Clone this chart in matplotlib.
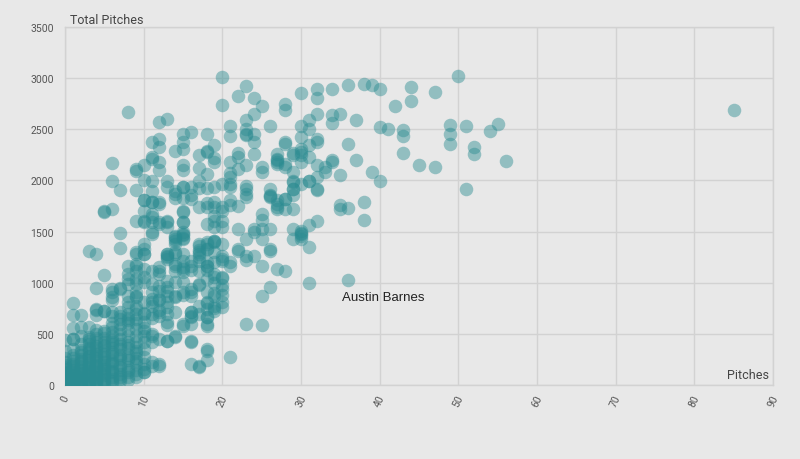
import matplotlib
matplotlib.use("Agg")
import matplotlib.pyplot as plt
import numpy as np

plt.rcParams['font.family'] = ['Roboto', 'DejaVu Sans']

# --- data: (pitches, total pitches) ---
upper_x = [8,6,6,7,5,6,9,9,9,10,10,10,10,9,11,11,11,11,11,11,11,12,13,12,12,12,12,12,13,13,
           14,14,14,15,15,15,15,15,15,15,15,16,16,16,17,17,17,17,17,18,18,18,18,18,19,19,19,19,19,19,
           20,20,20,20,21,21,21,21,21,21,21,21,22,22,22,22,22,23,23,23,23,23,23,23,23,23,
           24,24,24,24,24,25,25,25,26,26,26,26,27,27,27,28,28,28,27,27,27,28,28,28,
           29,29,29,29,29,29,30,30,30,30,30,30,30,31,31,31,31,32,32,32,32,32,32,33,
           34,34,34,34,35,35,35,36,36,36,37,37,38,39,39,38,38,40,40,40,41,42,44,44,47,50,
           43,43,43,49,49,49,51,52,52,54,55,56,45,47,51,85]
upper_y = [2670,2172,1990,1911,1700,1722,2107,2090,1911,2146,2000,1813,1706,1608,2374,2211,2230,1990,1901,1790,1640,2576,2603,2407,2325,2180,2100,1790,1990,1935,
           2292,1892,1830,2456,2374,2310,2146,2100,1935,1830,1690,2472,1853,1820,2244,2120,1990,1925,1740,2456,2290,2065,1925,1780,2342,2218,2180,1935,1790,1740,
           3010,2740,1967,1740,2537,2433,2185,2075,2033,1967,1805,1755,2830,2270,2225,2110,1750,2922,2586,2505,2456,2440,2150,1945,1870,1840,
           2805,2650,2456,2374,2260,2726,2085,1615,2537,1920,1860,1845,1805,1740,1720,2750,2685,2374,2260,2210,2180,2160,1820,1720,
           2270,2085,1985,1920,1855,1725,2850,2537,2420,2310,2245,2180,1967,2586,2505,2342,1990,2897,2805,2650,2407,2033,1911,2085,
           2890,2635,2560,2195,2650,2050,1755,2930,2358,1730,2586,2195,2945,2937,2085,1790,1615,2897,1990,2520,2500,2726,2912,2779,2860,3020,
           2495,2430,2270,2545,2456,2358,2535,2330,2255,2482,2550,2190,2146,2130,1920,2684]

mid_x = [18,25,27,27,28,28,30,29,31,32,32,33,34,23,26,27,28,29,29,31,32,35,25,
         19,20,20,22,24,25,26,25,23,29,30,30,31,32,30,31,26,22,23,24,25,27,28,21,19,19,18,20,18,
         10,10,10,9,11,12,12,13,13,13,14,14,14,14,14,15,15,15,15,15,15,16,17,17,17,17,18,18,19,19,20,20,21,24]
mid_y = [2276,2130,2195,2162,2130,2358,2276,2244,2228,2374,2146,2130,2178,1918,1837,1771,1820,1918,1999,1999,1918,1720,1673,
         1608,1608,1543,1527,1527,1527,1527,1429,1429,1527,1478,1510,1560,1608,1429,1347,1331,1331,1266,1266,1168,1135,1119,1200,1396,1298,1331,1233,1168,
         1608,1380,1282,1184,1494,1575,1118,1592,1543,1282,1869,1445,1380,1282,1118,1706,1592,1477,1282,1216,1935,1935,1380,1315,1250,1118,1738,1575,1543,1657,1216,1706,1935,1494]

lowmid_x = [3,4,7,7,9,11,13,13,14,15,15,14,15,15,16,16,17,18,18,18,19,19,20,21,22,23,26,29,30,30,31,36,25,26,23,25,
            21,18,18,17,16,16,14,13,12,11,10,10,15,16,16,16,18,18,18,19,20,20,20,20,19,19,18,17,16,15,14,13,13,13,13,13,
            12,12,12,11,11,11,10,10,10,9,9,9,8,8,8,7,6,6,5,4,4,4,5,6,2,1,1,2,1,3,3]
lowmid_y = [1314,1282,1337,1487,1282,1477,1280,1250,1430,1470,1440,1165,1150,1100,1216,1120,1280,1380,1200,1120,1410,1090,1380,1165,1310,1220,1310,1430,1490,1460,998,1027,868,956,597,587,
            271,352,240,190,210,430,480,430,210,190,125,275,580,660,600,710,660,580,800,750,1050,980,880,815,1000,900,910,980,910,880,860,960,920,815,765,590,
            830,735,670,815,655,480,815,700,560,910,860,370,985,765,635,950,910,830,1080,950,735,685,720,670,685,800,680,570,450,570,450]

z7_x = [5,10,11,12,10,11,11,12,13,15,14,15,14,15,9,10,10,13,13,14,17,17,18,18,19,20,8,9,9,10,10,11,12,12,14,15,16,17,18,19,20,
        8,8,9,9,10,11,11,12,12,13,14,15,16,17,18,19,6,6,7,8,8,9,9,11,11,12,13,14,15,16,18,19,20,
        4,5,6,7,9,10,11,12,13,14,16,17,18,19,20]
z7_y = [1695,1804,1788,1771,1592,1673,1592,1592,1608,1592,1461,1494,1412,1429,1298,1331,1282,1266,1233,1298,1363,1298,1396,1331,1412,1266,1168,1168,1119,1135,1053,1119,1151,1086,1184,1135,1168,1217,1168,1200,1053,
        1086,1037,1037,988,1004,988,906,971,923,1021,1004,1004,939,988,1037,1053,939,857,939,873,808,873,776,841,776,841,873,873,906,873,808,873,939,
        743,727,711,711,695,695,695,711,695,711,711,695,743,727,760]

low_x = [0,0,0,0,0,0,0,0,0,0,0,0,0,0,0,0,
         1,1,1,1,1,1,1,1,1,1,1,1,1,1,1,
         2,2,2,2,2,2,2,2,2,2,2,2,2,2,
         3,3,3,3,3,3,3,3,3,3,3,3,3,3,3,
         4,4,4,4,4,4,4,4,4,4,4,4,4,4,4,4,
         5,5,5,5,5,5,5,5,5,5,5,5,5,5,5,
         6,6,6,6,6,6,6,6,6,6,6,6,6,6,6,
         7,7,7,7,7,7,7,7,7,7,7,7,7,7,
         8,8,8,8,8,8,8,8,8,8,8,8,
         9,9,9,9,9,9,9,9,9,9,9,
         10,10,10,10,10,10,10,10,
         11,11,11,12,12,13,13,14,15,16,16,17,17,18,18,18,19]
low_y = [0,8,22,37,55,78,96,128,155,192,226,268,335,442,13,64,
         0,17,33,48,72,95,112,143,168,205,238,292,352,450,560,
         0,21,44,63,88,122,147,183,214,252,296,341,405,475,
         8,31,57,92,118,152,178,213,247,288,322,363,402,432,470,
         18,47,83,108,137,172,198,233,262,304,336,383,418,461,498,540,
         28,63,97,132,158,194,221,258,303,337,383,418,462,505,530,
         42,78,123,157,203,238,283,318,362,398,443,478,522,563,602,
         58,103,147,198,252,297,348,403,447,503,552,598,648,678,
         83,124,178,243,298,362,418,483,538,603,652,695,
         104,143,203,262,333,421,478,543,606,646,743,
         128,158,203,352,417,483,530,613,
         221,417,499,189,450,433,613,466,597,417,678,172,776,335,662,597,776]

# extra points in the densest corner
dense_x = [0,0,0,0,0,0,1,1,1,1,1,1,1,2,2,2,2,2,2,2,3,3,3,3,3,3,3,4,4,4,4,4,4,4,
           5,5,5,5,5,5,6,6,6,6,6,6,7,7,7,7,7,8,8,8,8,9,9,9]
dense_y = [3,30,47,88,115,172,6,26,58,84,128,185,262,11,35,74,104,165,232,320,15,45,104,136,196,272,345,
           10,36,66,124,185,283,360,14,48,115,178,276,395,22,62,140,218,302,418,35,82,175,272,380,52,150,262,392,78,236,312]

pitches = np.array(upper_x + mid_x + lowmid_x + z7_x + low_x + dense_x, dtype=float)
totals = np.array(upper_y + mid_y + lowmid_y + z7_y + low_y + dense_y, dtype=float)

x_ticks = [0, 10, 20, 30, 40, 50, 60, 70, 80, 90]
y_ticks = [0, 500, 1000, 1500, 2000, 2500, 3000, 3500]

bg = '#e8e8e8'
grid_c = '#d2d2d2'
fig = plt.figure(figsize=(8, 4.6), dpi=100, facecolor=bg)
ax = fig.add_axes([65/800, 1 - 386/460, (773-65)/800, (386-28)/460])
ax.set_facecolor(bg)

ax.scatter(pitches, totals, s=95, color='#2a8b91', alpha=0.45, linewidths=0, zorder=3)

ax.set_xlim(0, 90)
ax.set_ylim(0, 3500)
ax.set_xticks(x_ticks)
ax.set_yticks(y_ticks)
ax.grid(True, color=grid_c, linewidth=1, zorder=0)
ax.set_axisbelow(True)
for sp in ax.spines.values():
    sp.set_color(grid_c)
    sp.set_linewidth(1)
ax.tick_params(axis='both', length=0, labelsize=7.5, labelcolor='#555555')
ax.tick_params(axis='y', pad=8)
ax.tick_params(axis='x', pad=6)
for lab in ax.get_xticklabels():
    lab.set_rotation(65)
    lab.set_ha('center')
    lab.set_va('top')

fig.text(70/800, 1 - 20/460, 'Total Pitches', fontsize=9, color='#444444', ha='left', va='center')
ax.text(0.995, 0.012, 'Pitches', transform=ax.transAxes, fontsize=9, color='#444444', ha='right', va='bottom')
ax.text(35.2, 860, 'Austin Barnes', fontsize=9.5, color='#222222', ha='left', va='center', zorder=4,
        family=['Liberation Sans', 'DejaVu Sans'])

fig.savefig('out.png', dpi=100, facecolor=bg)
